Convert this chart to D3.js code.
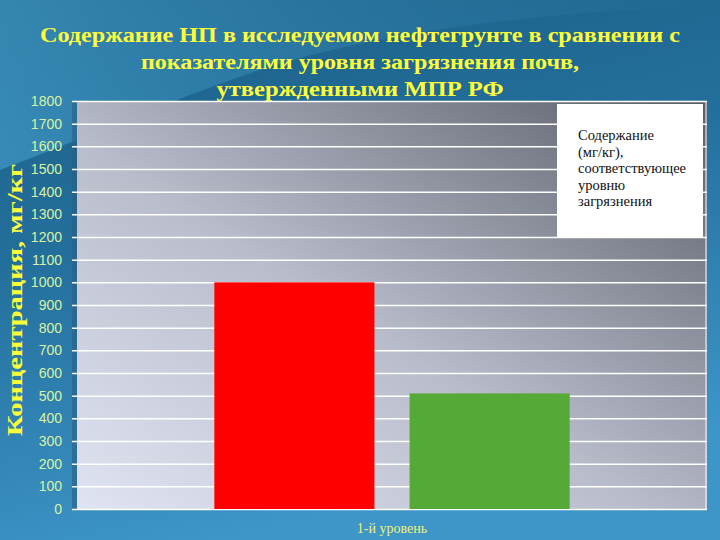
<!DOCTYPE html>
<html>
<head>
<meta charset="utf-8">
<script src="https://cdn.jsdelivr.net/npm/d3@7"></script>
<style>
  body { margin: 0; }
  svg { display: block; }
</style>
</head>
<body>
<svg width="720" height="540"></svg>
<script>
// data
var categories = ["1-й уровень"];
var seriesNames = ["Содержание НП в нефтегрунте", "Содержание (мг/кг), соответствующее уровню загрязнения"];
var seriesValues = [1000, 510];
var seriesColors = ["#ff0000", "#55a936"];
var yTicks = d3.range(0, 1801, 100);
var titleLines = ["Содержание НП в исследуемом нефтегрунте в сравнении с",
                  "показателями уровня загрязнения почв,",
                  "утвержденными МПР РФ"];
var legendLines = ["Содержание", "(мг/кг),", "соответствующее", "уровню", "загрязнения"];

var svg = d3.select("svg");
var defs = svg.append("defs");

// slide background
var bg = defs.append("linearGradient").attr("id", "bg")
    .attr("x1", 0).attr("y1", 0).attr("x2", 0.3).attr("y2", 1);
bg.append("stop").attr("offset", "0%").attr("stop-color", "#1b5f85");
bg.append("stop").attr("offset", "45%").attr("stop-color", "#236f9c");
bg.append("stop").attr("offset", "100%").attr("stop-color", "#3d95c8");

var plotBg = defs.append("linearGradient").attr("id", "plotbg")
    .attr("x1", 0).attr("y1", 1).attr("x2", 1).attr("y2", 0);
plotBg.append("stop").attr("offset", "0%").attr("stop-color", "#e0e3f2");
plotBg.append("stop").attr("offset", "45%").attr("stop-color", "#b9bccb");
plotBg.append("stop").attr("offset", "100%").attr("stop-color", "#595d68");

var swoosh = defs.append("linearGradient").attr("id", "swoosh")
    .attr("x1", 0).attr("y1", 0).attr("x2", 1).attr("y2", 0);
swoosh.append("stop").attr("offset", "0%").attr("stop-color", "#4aa6d4").attr("stop-opacity", 0.55);
swoosh.append("stop").attr("offset", "60%").attr("stop-color", "#3b8fbf").attr("stop-opacity", 0.25);
swoosh.append("stop").attr("offset", "100%").attr("stop-color", "#3b8fbf").attr("stop-opacity", 0);

svg.append("rect").attr("width", 720).attr("height", 540).attr("fill", "url(#bg)");
svg.append("path")
    .attr("d", "M0,0 L720,0 L720,6 C560,10 380,30 260,70 C170,100 80,140 0,170 Z")
    .attr("fill", "url(#swoosh)");

// chart frame
var margin = {left: 77, right: 13, top: 101, bottom: 31};
var width = 720 - margin.left - margin.right;
var height = 540 - margin.top - margin.bottom;

var y = d3.scaleLinear().domain([0, 1800]).range([height, 0]);
var x0 = d3.scaleBand().domain(categories).range([0, width]);
var x1 = d3.scaleBand().domain(d3.range(seriesValues.length))
    .range([x0.bandwidth() * 0.218, x0.bandwidth() * 0.782]).paddingInner(0.18);

var g = svg.append("g").attr("transform", "translate(" + margin.left + "," + margin.top + ")");

g.append("rect").attr("x", -5).attr("y", 0).attr("width", 5).attr("height", height)
    .attr("fill", "#2b5f82").attr("opacity", 0.6);
g.append("rect").attr("width", width).attr("height", height).attr("fill", "url(#plotbg)");

// gridlines + tick labels
var yAxis = d3.axisLeft(y).tickValues(yTicks).tickFormat(d3.format("d")).tickSize(-width - 5);
var ax = g.append("g").call(yAxis);
ax.select(".domain").remove();
ax.selectAll(".tick line").attr("stroke", "#ffffff").attr("stroke-width", 1.5)
    .attr("x1", -5).attr("x2", width);
ax.selectAll(".tick text")
    .attr("fill", "#d9f2a0")
    .attr("x", -15)
    .style("font-family", "'Liberation Sans Narrow', 'Liberation Sans', Arial, sans-serif")
    .style("font-size", "14px");

g.append("line").attr("x1", width - 1).attr("x2", width - 1).attr("y1", 0).attr("y2", height)
    .attr("stroke", "#ffffff").attr("stroke-width", 1);

// bars
var grp = g.selectAll(".cat").data(categories).enter().append("g")
    .attr("transform", function(d) { return "translate(" + x0(d) + ",0)"; });
grp.selectAll("rect").data(seriesValues).enter().append("rect")
    .attr("x", function(d, i) { return x1(i); })
    .attr("y", function(d) { return y(d); })
    .attr("width", x1.bandwidth())
    .attr("height", function(d) { return height - y(d); })
    .attr("fill", function(d, i) { return seriesColors[i]; });

// category label
g.selectAll(".catlabel").data(categories).enter().append("text")
    .attr("x", function(d) { return x0(d) + x0.bandwidth() / 2; })
    .attr("y", height + 24)
    .attr("text-anchor", "middle")
    .attr("fill", "#eef27a")
    .style("font-family", "'Liberation Serif', 'Times New Roman', serif")
    .style("font-size", "14px")
    .text(function(d) { return d; });

// legend
var lg = svg.append("g").attr("transform", "translate(557,104)");
lg.append("rect").attr("width", 146).attr("height", 133).attr("fill", "#ffffff");
lg.selectAll("text").data(legendLines).enter().append("text")
    .attr("x", 21)
    .attr("y", function(d, i) { return 36 + i * 16.5; })
    .attr("fill", "#111")
    .style("font-family", "'Liberation Serif', 'Times New Roman', serif")
    .style("font-size", "14.5px")
    .text(function(d) { return d; });

// title
var titleW = [640, 438, 287];
svg.selectAll(".title").data(titleLines).enter().append("text")
    .attr("x", 360)
    .attr("y", function(d, i) { return 42 + i * 27; })
    .attr("text-anchor", "middle")
    .attr("textLength", function(d, i) { return titleW[i]; })
    .attr("lengthAdjust", "spacingAndGlyphs")
    .attr("fill", "#ffff3a")
    .style("font-family", "'Liberation Serif', 'Times New Roman', serif")
    .style("font-weight", "bold")
    .style("font-size", "22px")
    .text(function(d) { return d; });

// y axis title
svg.append("text")
    .attr("transform", "translate(22,300) rotate(-90)")
    .attr("text-anchor", "middle")
    .attr("textLength", 272)
    .attr("lengthAdjust", "spacingAndGlyphs")
    .attr("fill", "#ffff3a")
    .style("font-family", "'Liberation Serif', 'Times New Roman', serif")
    .style("font-weight", "bold")
    .style("font-size", "20px")
    .text("Концентрация, мг/кг");
</script>
</body>
</html>
